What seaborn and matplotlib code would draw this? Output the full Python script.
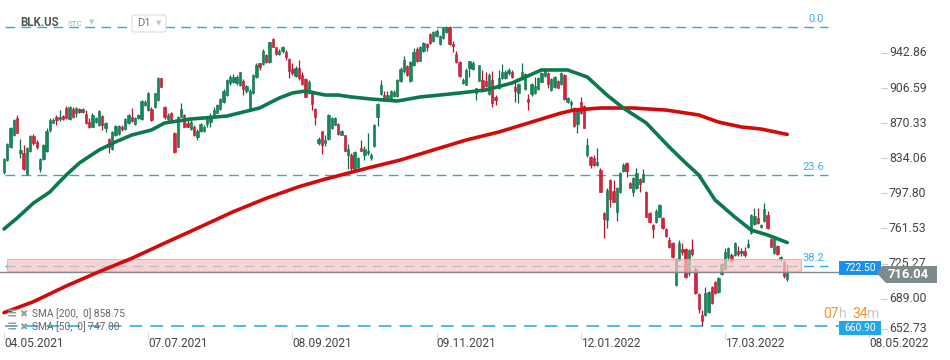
import numpy as np
import pandas as pd
import matplotlib
matplotlib.use("Agg")
import matplotlib.pyplot as plt
import matplotlib.transforms as mtrans
from matplotlib.patches import Rectangle, Polygon, FancyBboxPatch
import seaborn as sns

# ---------------- data ----------------
opens = [
820.2, 832.3, 845.4, 857.8, 875.3, 839.2, 839.2, 817.8, 841.9, 857.1,
850.9, 822.6, 833.0, 841.9, 863.3, 870.9, 876.4, 874.3, 877.8, 885.7,
874.3, 884.6, 880.5, 885.0, 882.2, 879.8, 871.2, 866.7, 871.9, 868.4,
877.8, 865.0, 853.6, 843.3, 858.1, 859.1, 866.7, 864.0, 870.9, 877.1,
869.5, 875.3, 874.3, 889.1, 883.9, 884.6, 886.7, 894.3, 916.7, 886.7,
874.3, 881.2, 860.5, 846.1, 877.1, 878.8, 870.9, 864.0, 866.7, 856.4,
862.6, 862.6, 869.5, 871.9, 876.4, 881.2, 884.6, 892.5, 899.4, 911.5,
913.2, 912.2, 909.8, 914.2, 903.9, 885.7, 901.2, 918.4, 932.2, 931.5,
940.7, 933.9, 957.0, 948.7, 941.8, 945.2, 944.2, 936.3, 926.0, 919.1,
927.0, 920.1, 915.6, 901.9, 901.2, 884.6, 850.2, 861.9, 849.8, 854.3,
865.3, 868.8, 869.5, 858.4, 857.8, 837.8, 837.8, 822.3, 824.7, 844.7,
837.8, 839.5, 834.3, 846.4, 876.4, 900.5, 899.1, 896.3, 896.3, 898.1,
898.1, 914.3, 924.6, 929.1, 914.3, 930.8, 947.3, 934.9, 945.2, 952.1,
962.5, 954.9, 960.1, 952.1, 958.3, 964.5, 969.5, 952.1, 941.8, 933.5,
911.8, 910.1, 927.3, 926.6, 901.5, 914.3, 915.0, 913.9, 900.2, 915.0,
897.7, 906.4, 916.7, 916.7, 921.9, 923.6, 908.1, 901.2, 916.0, 905.7,
895.3, 900.2, 901.2, 905.7, 913.2, 919.4, 921.9, 904.6, 908.1, 913.9,
910.5, 920.1, 891.9, 889.8, 886.4, 869.2, 891.9, 888.4, 837.5, 835.8,
834.7, 827.1, 821.9, 777.2, 770.3, 811.6, 800.3, 778.9, 798.9, 820.9,
828.8, 808.2, 798.9, 803.7, 812.7, 809.9, 799.6, 777.2, 765.1, 768.6,
773.7, 772.0, 760.6, 749.6, 746.9, 703.1, 728.9, 740.0, 740.0, 715.9,
740.0, 719.3, 693.8, 672.1, 672.1, 675.6, 700.7, 706.6, 696.2, 714.5,
719.3, 732.4, 734.1, 734.1, 738.6, 735.8, 738.6, 742.0, 756.5, 766.1,
772.0, 762.7, 769.6, 775.4, 750.3, 735.9, 743.4, 729.6, 727.2, 708.9]

highs = [
834.0, 849.5, 866.0, 874.3, 878.8, 853.6, 847.8, 846.1, 858.1, 859.1,
852.9, 834.0, 848.8, 865.0, 875.3, 875.3, 878.8, 883.9, 878.8, 888.1,
888.1, 886.7, 886.7, 885.7, 885.7, 884.0, 875.3, 880.5, 876.4, 884.0,
878.8, 871.9, 854.7, 862.6, 868.4, 868.4, 868.4, 875.3, 879.8, 885.7,
876.4, 879.8, 894.3, 894.3, 902.9, 886.7, 901.9, 918.4, 917.4, 888.1,
880.5, 882.2, 861.6, 877.8, 891.5, 879.8, 876.4, 873.6, 868.4, 864.0,
870.9, 868.4, 876.4, 880.5, 887.4, 890.1, 896.0, 905.3, 915.6, 920.1,
921.1, 920.1, 923.6, 915.6, 909.8, 905.3, 921.1, 932.2, 932.9, 946.6,
941.8, 954.5, 958.0, 949.4, 946.6, 950.1, 945.9, 937.3, 932.2, 929.4,
935.6, 923.6, 916.7, 914.9, 901.9, 885.7, 855.7, 862.6, 857.8, 879.8,
876.4, 876.4, 870.5, 863.6, 858.4, 848.8, 839.5, 841.9, 835.0, 853.3,
846.4, 860.2, 839.5, 869.5, 891.2, 915.3, 903.2, 903.9, 904.9, 904.9,
916.3, 928.0, 939.4, 930.8, 934.9, 948.0, 948.7, 949.7, 954.2, 953.2,
963.5, 965.9, 968.0, 961.1, 969.4, 971.0, 970.5, 954.9, 945.2, 934.2,
917.0, 927.3, 934.9, 934.9, 906.7, 930.8, 925.3, 923.6, 921.9, 924.3,
899.5, 925.3, 931.2, 925.3, 927.0, 925.3, 915.0, 911.5, 932.2, 921.9,
900.2, 911.5, 918.4, 918.4, 923.6, 927.7, 922.9, 917.4, 919.4, 915.0,
922.9, 920.8, 897.7, 894.3, 887.4, 885.7, 897.7, 889.1, 854.7, 836.8,
837.5, 845.1, 823.7, 778.9, 803.7, 812.7, 811.6, 804.7, 820.2, 828.9,
829.9, 809.2, 815.1, 823.7, 814.1, 823.0, 800.6, 778.9, 766.1, 781.3,
786.8, 773.0, 761.7, 752.4, 747.9, 730.7, 749.6, 746.9, 741.0, 740.0,
750.3, 721.4, 695.2, 677.3, 701.4, 697.3, 702.1, 707.6, 711.7, 725.5,
741.0, 742.7, 735.8, 747.9, 743.4, 741.0, 742.7, 750.3, 776.5, 782.3,
782.3, 766.1, 788.2, 779.9, 751.3, 752.4, 744.4, 733.1, 728.9, 724.8]

lows = [
817.8, 831.6, 844.7, 857.1, 859.8, 834.0, 821.9, 816.8, 840.9, 847.8,
843.3, 820.2, 832.3, 840.9, 861.6, 870.2, 868.4, 872.9, 873.6, 874.3,
873.6, 875.3, 876.4, 880.5, 880.5, 869.5, 865.0, 866.0, 870.9, 867.4,
863.3, 861.6, 839.9, 842.6, 857.1, 858.1, 862.6, 863.3, 869.5, 871.9,
868.4, 874.3, 873.6, 888.1, 883.2, 872.9, 885.7, 893.6, 907.4, 874.3,
872.9, 871.9, 839.9, 845.4, 876.4, 866.0, 866.0, 863.3, 857.1, 852.9,
861.6, 861.6, 866.7, 866.7, 875.3, 880.5, 883.9, 891.5, 898.4, 909.8,
911.5, 909.8, 908.7, 899.4, 901.2, 884.6, 900.5, 916.7, 925.3, 930.4,
932.2, 932.9, 948.7, 940.7, 940.7, 943.2, 935.6, 916.7, 920.1, 918.4,
914.9, 909.8, 897.0, 900.5, 883.9, 868.4, 847.8, 838.5, 846.4, 853.3,
864.7, 868.1, 858.4, 857.8, 841.2, 823.3, 821.3, 821.3, 823.3, 841.2,
832.6, 837.8, 832.6, 845.4, 867.1, 899.1, 894.6, 894.6, 895.7, 897.0,
897.0, 912.9, 922.2, 918.7, 912.9, 929.1, 933.5, 934.2, 943.9, 945.2,
952.1, 954.2, 959.0, 951.4, 957.6, 963.5, 951.4, 943.9, 932.5, 917.7,
910.8, 909.4, 917.7, 925.6, 894.6, 913.6, 902.9, 908.1, 899.5, 887.4,
889.1, 905.7, 916.0, 916.0, 920.1, 916.7, 892.6, 890.9, 915.0, 904.6,
884.0, 898.8, 900.2, 904.6, 912.6, 918.4, 906.4, 903.6, 906.4, 906.4,
909.8, 894.3, 890.9, 884.0, 866.8, 859.9, 879.5, 865.0, 835.8, 823.7,
826.5, 826.5, 798.9, 752.1, 761.7, 784.1, 788.6, 769.3, 797.9, 820.2,
815.1, 803.0, 795.5, 802.3, 799.6, 809.2, 773.0, 767.5, 751.3, 767.5,
773.0, 760.6, 752.4, 741.0, 730.7, 702.1, 728.2, 734.1, 710.0, 712.4,
733.1, 693.8, 673.8, 660.9, 671.1, 674.5, 683.5, 693.8, 695.2, 713.4,
718.6, 728.2, 727.2, 733.1, 733.1, 733.1, 732.4, 741.0, 755.8, 765.1,
766.1, 761.7, 768.6, 760.6, 742.0, 735.2, 734.1, 728.2, 710.0, 707.6]

closes = [
833.0, 848.8, 865.0, 873.6, 860.5, 842.6, 822.6, 844.3, 857.1, 849.5,
845.4, 833.0, 847.8, 862.6, 873.6, 873.6, 873.6, 877.1, 875.0, 875.3,
886.7, 876.4, 885.7, 882.2, 884.6, 870.2, 866.0, 878.8, 875.3, 883.2,
868.4, 870.2, 846.1, 861.6, 867.4, 867.4, 864.0, 874.3, 878.8, 872.9,
875.3, 878.8, 893.6, 892.5, 901.9, 873.6, 901.2, 916.7, 908.1, 876.4,
878.8, 872.9, 840.9, 876.4, 884.6, 866.7, 866.7, 871.9, 858.1, 862.6,
869.5, 866.7, 875.3, 877.8, 883.9, 889.1, 895.0, 903.6, 914.9, 918.4,
917.7, 917.7, 922.9, 905.3, 908.7, 903.9, 920.1, 930.4, 928.0, 945.2,
933.2, 953.9, 949.4, 941.8, 945.2, 948.7, 938.4, 924.6, 922.5, 927.0,
916.7, 910.8, 897.7, 913.2, 890.1, 876.4, 853.6, 848.1, 853.3, 879.1,
875.7, 875.7, 859.1, 861.9, 841.9, 844.0, 824.0, 840.5, 834.4, 841.2,
844.0, 841.9, 837.1, 868.8, 890.1, 909.4, 896.3, 899.8, 903.9, 902.5,
915.3, 926.6, 935.9, 919.8, 933.5, 943.9, 934.2, 948.7, 953.2, 948.7,
953.2, 964.5, 965.9, 960.1, 968.7, 969.5, 952.1, 949.7, 933.5, 918.7,
915.3, 925.6, 934.2, 932.5, 906.7, 930.1, 904.6, 909.1, 920.1, 890.9,
894.3, 917.4, 923.6, 922.9, 925.3, 918.4, 903.6, 910.5, 922.9, 920.8,
891.9, 910.5, 909.1, 917.4, 921.9, 926.3, 910.5, 916.0, 918.4, 907.1,
921.9, 895.3, 896.7, 892.6, 867.8, 884.0, 880.5, 865.7, 847.8, 827.1,
827.1, 829.9, 799.6, 771.3, 801.3, 792.0, 789.3, 803.0, 818.5, 827.1,
820.9, 803.7, 813.4, 818.5, 807.2, 817.5, 773.7, 768.6, 760.6, 779.9,
785.8, 761.7, 753.7, 742.0, 731.7, 729.6, 746.9, 737.5, 711.0, 739.3,
735.2, 695.2, 678.0, 666.2, 695.2, 696.2, 684.9, 695.2, 710.0, 724.8,
737.5, 741.0, 728.9, 746.9, 735.2, 738.6, 734.1, 745.5, 775.4, 774.4,
766.8, 765.1, 781.3, 761.7, 742.7, 751.3, 735.2, 731.7, 712.4, 716.04]

# moving averages, read at sample bars
sma50_bars = [0, 4, 9, 14, 16, 19, 23, 29, 34, 39, 45, 49, 57, 68, 78, 84, 88, 92, 98,
              102, 106, 112, 120, 127, 133, 139, 147, 155, 164, 172, 178, 184, 189,
              196, 203, 208, 212, 217, 223, 228, 233, 239]
sma50_vals = [761.0, 772.3, 787.8, 799.2, 806.4, 816.8, 829.2, 842.6, 850.9, 858.1,
              863.3, 870.5, 874.6, 877.7, 886.0, 896.3, 901.5, 903.6, 899.4, 899.4,
              897.4, 895.3, 893.2, 897.4, 899.4, 901.5, 904.6, 911.8, 925.3, 925.3,
              918.0, 899.4, 885.9, 870.5, 845.7, 829.2, 816.8, 790.9, 773.4, 759.9,
              754.8, 747.0]
sma200_bars = [0, 9, 19, 29, 39, 50, 60, 70, 80, 90, 97, 111, 121, 131, 141, 151, 161,
               170, 174, 182, 192, 202, 212, 218, 225, 231, 239]
sma200_vals = [674.5, 685.9, 702.1, 716.8, 730.7, 747.9, 763.3, 778.9, 792.7, 804.7,
               811.6, 824.0, 832.3, 842.6, 852.9, 861.2, 871.5, 880.8, 883.9, 886.0,
               886.0, 883.9, 878.8, 871.5, 866.4, 864.3, 858.75]

fib_levels = [969.5, 816.8, 722.5]
fib_labels = ["0.0", "23.6", "38.2"]
zone_low, zone_high = 717.6, 730.0
support_level = 660.90
last_price = 716.04
ytick_vals = [942.86, 906.59, 870.33, 834.06, 797.80, 761.53, 725.27, 689.00, 652.73]
xtick_bars = [0, 44, 88, 132, 176, 220, 264]
xtick_labels = ["04.05.2021", "07.07.2021", "08.09.2021", "09.11.2021",
                "12.01.2022", "17.03.2022", "08.05.2022"]

# ---------------- style ----------------
sns.set_style("white")
plt.rcParams["font.family"] = ["Roboto", "DejaVu Sans"]

W, H = 950, 360
fig = plt.figure(figsize=(W / 100, H / 100), dpi=100)
ax = fig.add_axes([0, 0, 1, 1])
PXB, X0 = 3.277, 4.0
P_TOP, P_PER_PX = 997.6, 1.0333


def bx(px):
    return (px - X0) / PXB


def fx(px):
    return px / W


def fy(py):
    return 1 - py / H


GREEN, GREEN_E = "#14885a", "#0d6e47"
RED, RED_E = "#d8213a", "#b5152c"

o = np.array(opens); h = np.array(highs); l = np.array(lows); c = np.array(closes)
idx = np.arange(len(c))
up = c >= o
col = np.where(up, GREEN, RED)
ecol = np.where(up, GREEN_E, RED_E)
ax.vlines(idx, l, h, colors=ecol, lw=0.9, zorder=2)
ax.bar(idx, np.maximum(np.abs(c - o), 0.9), bottom=np.minimum(o, c), width=0.72,
       color=col, edgecolor=ecol, linewidth=0.4, zorder=2.1)

# fib lines
for v, lab in zip(fib_levels, fib_labels):
    ax.plot([bx(5), bx(828)], [v, v], ls=(0, (7, 4.5)), color="#2fa6e6", lw=1.0, zorder=1.5)
    ax.text(bx(824), v, lab, ha="right", va="bottom", fontsize=8, color="#3aaeea",
            transform=mtrans.offset_copy(ax.transData, fig, y=3, units="dots"), zorder=5)

# support line
ax.plot([bx(5), bx(839)], [support_level] * 2, ls=(0, (7, 4.5)), color="#3ab4f0", lw=1.3, zorder=1.6)
# last price line
ax.plot([bx(0), bx(881)], [last_price] * 2, color="#7f8c8d", lw=1.0, zorder=2.5)

# pink zone
ax.add_patch(Rectangle((bx(7), zone_low), bx(801) - bx(7), zone_high - zone_low,
                       facecolor="#f8c4c4", alpha=0.72, edgecolor="#ef9c9c", lw=0.8, zorder=3))

# moving averages
df200 = pd.DataFrame({"bar": sma200_bars, "value": sma200_vals})
df50 = pd.DataFrame({"bar": sma50_bars, "value": sma50_vals})
sns.lineplot(data=df200, x="bar", y="value", ax=ax, color="#d40a0a", lw=2.6, zorder=4)
sns.lineplot(data=df50, x="bar", y="value", ax=ax, color="#0a7a4c", lw=2.6, zorder=4.1)

ax.set_xlim(bx(0), bx(W))
ax.set_ylim(P_TOP - P_PER_PX * H, P_TOP)
ax.axis("off")

# y tick labels on the right
blend = mtrans.blended_transform_factory(fig.transFigure, ax.transData)
for v in ytick_vals:
    ypx = min((P_TOP - v) / P_PER_PX, 329)
    vv = P_TOP - ypx * P_PER_PX
    ax.plot([fx(881), fx(887)], [vv, vv], color="#d0d0d0", lw=0.8, transform=blend, zorder=5)
    ax.text(fx(889), vv, f"{v:.2f}", ha="left", va="center", fontsize=8.8, color="#444444",
            transform=blend, zorder=5)

# x tick labels
for b, lab in zip(xtick_bars, xtick_labels):
    xb = X0 + b * PXB
    fig.add_artist(plt.Line2D([fx(xb), fx(xb)], [fy(333), fy(339)], color="#dcdcdc", lw=0.8))
    fig.text(fx(xb), fy(343.5), lab, ha="left", va="center", fontsize=8.6, color="#444444")

# price boxes
def box(x0, y0, x1, y1, color, text, fs=7.4, bold=False):
    fig.add_artist(Rectangle((fx(x0), fy(y1)), fx(x1) - fx(x0), fy(y0) - fy(y1),
                             facecolor=color, edgecolor="none", transform=fig.transFigure, zorder=6))
    fig.text(fx((x0 + x1) / 2), fy((y0 + y1) / 2), text, ha="center", va="center",
             fontsize=fs, color="white", fontweight="bold" if bold else "normal", zorder=7)

box(839, 261, 881, 275, "#1b8fec", "722.50")
box(839, 321, 881, 334.5, "#22a5ef", f"{support_level:.2f}")
poly = Polygon([(fx(877), fy(273.5)), (fx(882), fy(266)), (fx(937), fy(266)),
                (fx(937), fy(283)), (fx(886), fy(283))], closed=True,
               facecolor="#7f8a8d", edgecolor="none", transform=fig.transFigure, zorder=6)
fig.add_artist(poly)
fig.text(fx(908), fy(274.5), f"{last_price:.2f}", ha="center", va="center", fontsize=9.4,
         color="white", fontweight="bold", zorder=7)

# countdown
for xs, t, cc in [(823, "07", "#f7941d"), (838.5, "h", "#c8c8c8"), (852, "34", "#f7941d"), (867.5, "m", "#c8c8c8")]:
    fig.text(fx(xs), fy(314), t, ha="left", va="center", fontsize=10, color=cc, zorder=7)

# SMA legend
for ypx, t in [(314, "SMA [200,  0] 858.75"), (327, "SMA [50,  0] 747.00")]:
    fig.text(fx(7), fy(ypx), "\u2261", ha="left", va="center", fontsize=9, color="#9a9a9a",
             fontweight="bold", family=["DejaVu Sans"])
    fig.text(fx(19), fy(ypx), "\u2716", ha="left", va="center", fontsize=7, color="#9a9a9a",
             family=["DejaVu Sans"])
    fig.text(fx(32), fy(ypx), t, ha="left", va="center", fontsize=7.3, color="#666666")

# header
fig.text(fx(20), fy(23), "BLK.US", ha="left", va="center", fontsize=8.3, color="#555555", fontweight="bold")
fig.text(fx(68), fy(24), "STC", ha="left", va="center", fontsize=5.8, color="#aaaaaa")
fig.text(fx(89), fy(22), "\u25BC", ha="left", va="center", fontsize=5, color="#c4c4c4", family=["DejaVu Sans"])
fig.add_artist(FancyBboxPatch((fx(132), fy(32)), fx(34), 17 / H, boxstyle="round,pad=0,rounding_size=0.004",
                              facecolor="white", edgecolor="#dddddd", lw=0.8, transform=fig.transFigure, zorder=5))
fig.text(fx(137), fy(23.5), "D1", ha="left", va="center", fontsize=8, color="#777777", zorder=6)
fig.text(fx(156), fy(23), "\u25BC", ha="left", va="center", fontsize=5, color="#c4c4c4",
         family=["DejaVu Sans"], zorder=6)

fig.savefig("out.png", dpi=100, facecolor="white")
